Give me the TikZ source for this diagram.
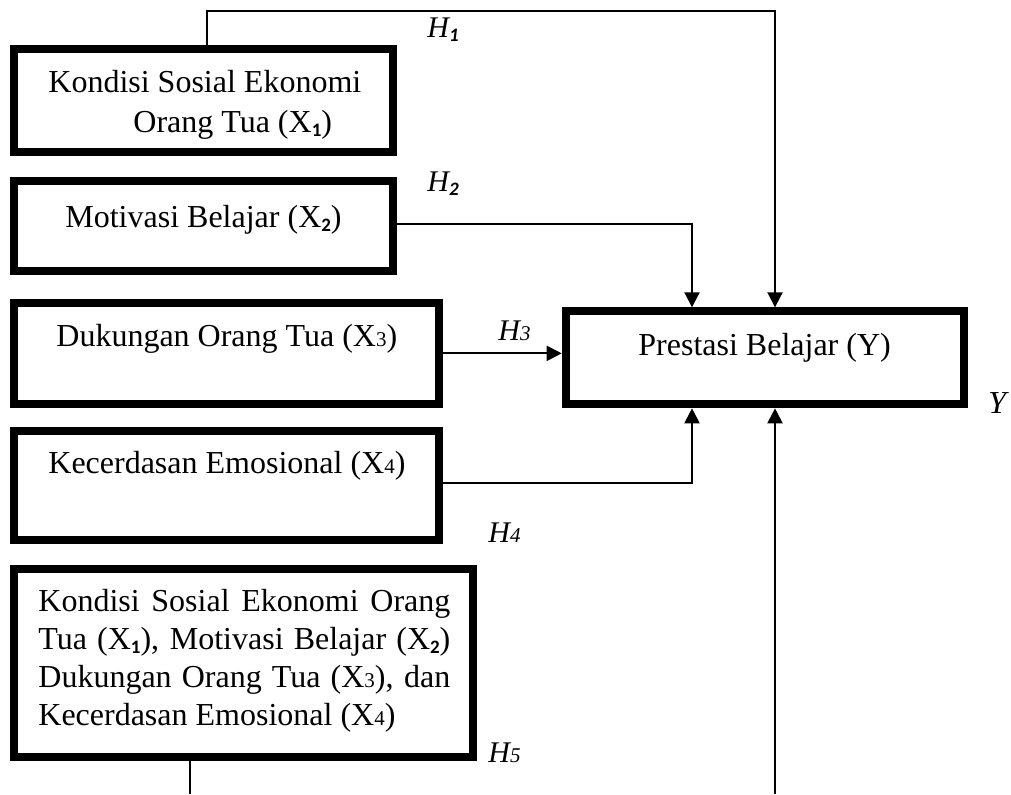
\documentclass[tikz,border=0pt]{standalone}
\usepackage{fontspec}
\setmainfont{Liberation Serif}
\newfontfamily\subsans{Carlito}
\usetikzlibrary{arrows.meta}
\usetikzlibrary{calc}

\newcommand{\sba}[1]{\raisebox{-0.3ex}{\subsans\bfseries\fontsize{9.5}{9.5}\selectfont #1}}
\newcommand{\sbb}[1]{{\fontsize{10.5}{10.5}\selectfont #1}}

\begin{document}
\begin{tikzpicture}[x=0.5pt, y=-0.5pt,
    box/.style={draw, line width=4pt, inner sep=0pt},
    txt/.style={inner sep=0pt, anchor=base west, font=\fontsize{16}{19}\selectfont},
    hyp/.style={inner sep=0pt, anchor=base west, font=\fontsize{15}{15}\selectfont\itshape},
    conn/.style={line width=1pt},
    arr/.style={line width=1pt, -{Triangle[width=7.5pt,length=7.5pt]}}]

        \useasboundingbox (0,0) rectangle (1011,794);

        \node[box, minimum width=189.5pt, minimum height=51.5pt] (x1) at (203.5,100.5) {};
        \node[box, minimum width=189.5pt, minimum height=45.15pt] (x2) at (203.5,225.8) {};
        \node[box, minimum width=212.35pt, minimum height=50.35pt] (x3) at (226.35,353.35) {};
        \node[box, minimum width=212.35pt, minimum height=54.75pt] (x4) at (226.35,485.45) {};
        \node[box, minimum width=229.65pt, minimum height=93.95pt] (x5) at (243.65,663.25) {};
        \node[box, minimum width=199.3pt, minimum height=46.5pt] (prest) at (765,357.8) {};

        \node[txt, align=left, font=\fontsize{16}{20}\selectfont] (t1) at (48,132) {Kondisi Sosial Ekonomi\\\hspace*{42.5pt}Orang Tua (X\sba{1})};
        \node[txt] (t2) at (65,227) {Motivasi Belajar (X\sba{2})};
        \node[txt] (t3) at (56,346.7) {Dukungan Orang Tua (X\sbb{3})};
        \node[txt] (t4) at (48,473.3) {Kecerdasan Emosional (X\sbb{4})};
        \node[txt, align=left, font=\fontsize{16}{18.9}\selectfont] (t5) at (38,725) {\makebox[206pt][s]{Kondisi Sosial Ekonomi Orang}\\\makebox[206pt][s]{Tua (X\sba{1}), Motivasi Belajar (X\sba{2})}\\\makebox[206pt][s]{Dukungan Orang Tua (X\sbb{3}), dan}\\Kecerdasan Emosional (X\sbb{4})};
        \node[txt] (ty) at (638,355) {Prestasi Belajar (Y)};

        \node[hyp] (h1) at (427,37) {H\sba{1}};
        \node[hyp] (h2) at (427,191) {H\sba{2}};
        \node[hyp] (h3) at (498,340) {H\sbb{3}};
        \node[hyp] (h4) at (488,542) {H\sbb{4}};
        \node[hyp] (h5) at (488,762) {H\sbb{5}};
        \node[hyp, font=\fontsize{16}{16}\selectfont\itshape] (ylbl) at (988,413) {Y};

        \coordinate (k1) at (207,11);
        \coordinate (k2) at (775,11);
        \draw[arr] (k1 |- x1.north) -- (k1) -- (k2) -- (k2 |- prest.north);

        \coordinate (k3) at (692,224);
        \draw[arr] (k3 -| x2.east) -- (k3) -- (k3 |- prest.north);

        \draw[arr] (x3.east) -- (x3.east -| prest.west);

        \coordinate (k4) at (692,483);
        \draw[arr] (k4 -| x4.east) -- (k4) -- (k4 |- prest.south);

        \coordinate (k5) at (190,794);
        \draw[conn] (k5 |- x5.south) -- (k5);

        \coordinate (k6) at (775,794);
        \draw[arr] (k6) -- (k6 |- prest.south);

    \end{tikzpicture}
\end{document}
